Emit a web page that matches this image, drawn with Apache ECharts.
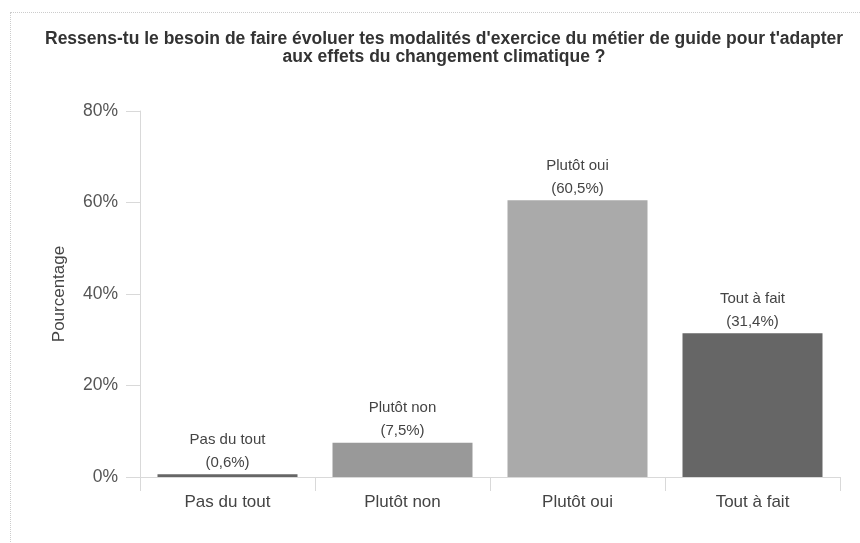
<!DOCTYPE html>
<html>
<head>
<meta charset="utf-8">
<script src="https://cdn.jsdelivr.net/npm/echarts@6/dist/echarts.min.js"></script>
<style>
  html, body { margin: 0; padding: 0; background: #fff; }
  #chart { width: 860px; height: 543px; }
  #frame {
    position: absolute; left: 10px; top: 12px; width: 860px; height: 560px;
    border: 1px dotted #ccc; box-sizing: border-box; pointer-events: none;
  }
</style>
</head>
<body>
<div id="frame"></div>
<div id="chart"></div>
<script>
const categories = ['Pas du tout', 'Plutôt non', 'Plutôt oui', 'Tout à fait']
const values = [0.6, 7.5, 60.5, 31.4]
const barColors = ['#666666', '#999999', '#aaaaaa', '#666666']
const yTicks = [0, 20, 40, 60, 80]

const chart = echarts.init(document.getElementById('chart'))

chart.setOption({
  animation: false,
  textStyle: { fontFamily: 'Liberation Sans, Arial, sans-serif' },
  title: {
    text: "Ressens-tu le besoin de faire évoluer tes modalités d'exercice du métier de guide pour t'adapter\naux effets du changement climatique ?",
    left: 439,
    top: 25,
    textAlign: 'center',
    textStyle: { fontSize: 17.5, fontWeight: 'bold', color: '#333', lineHeight: 18 },
  },
  grid: { left: 140, right: 20, top: 111, bottom: 66 },
  xAxis: {
    type: 'category',
    data: categories,
    axisLine: { lineStyle: { color: '#d9d9d9' } },
    axisTick: { show: true, length: 14, lineStyle: { color: '#d9d9d9' } },
    axisLabel: { color: '#444', fontSize: 17, margin: 17 },
  },
  yAxis: {
    type: 'value',
    min: yTicks[0],
    max: yTicks[yTicks.length - 1],
    interval: 20,
    name: 'Pourcentage',
    nameLocation: 'middle',
    nameGap: 72,
    nameTextStyle: { color: '#444', fontSize: 17 },
    axisLine: { show: true, lineStyle: { color: '#d9d9d9' } },
    axisTick: { show: true, length: 14, lineStyle: { color: '#d9d9d9' } },
    splitLine: { show: false },
    axisLabel: { color: '#555', fontSize: 17.5, margin: 22, formatter: '{value}%' },
  },
  series: [
    {
      type: 'bar',
      barWidth: '80%',
      data: values.map((v, i) => ({ value: v, itemStyle: { color: barColors[i] } })),
      label: {
        show: true,
        position: 'top',
        distance: 0,
        color: '#444',
        fontSize: 15,
        lineHeight: 23,
        formatter: (p) => categories[p.dataIndex] + '\n(' + String(p.value).replace('.', ',') + '%)',
      },
    },
  ],
})
</script>
</body>
</html>
